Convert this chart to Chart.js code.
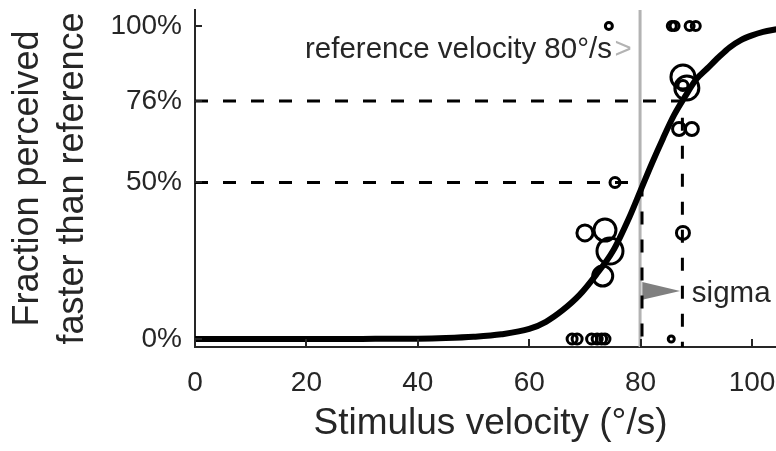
<!DOCTYPE html>
<html>
<head>
<meta charset="utf-8">
<script src="https://cdn.jsdelivr.net/npm/chart.js@4.4.1/dist/chart.umd.min.js"></script>
<style>
    html, body { margin: 0; padding: 0; background: #fff; overflow: hidden; }
    #wrap { width: 786px; height: 451px; }
</style>
</head>
<body>
<div id="wrap"><canvas id="chart" width="786" height="451"></canvas></div>
<script>
const FONT = '"Liberation Sans", Arial, Helvetica, sans-serif';
const INK = '#262626';

// fitted psychometric curve
const curveX = [0, 20, 30, 40, 45, 50, 55, 60, 63, 66, 69, 72, 75, 78, 80, 82, 84, 86, 88, 90, 92, 94, 96, 98, 100, 102, 104.5];
const curveY = [0, 0, 0.0003, 0.001, 0.003, 0.007, 0.015, 0.032, 0.055, 0.092, 0.14, 0.205, 0.28, 0.39, 0.475, 0.56, 0.64, 0.715, 0.775, 0.83, 0.865, 0.9, 0.932, 0.955, 0.97, 0.981, 0.99];

// observed responses: velocity, fraction faster, marker radius (~ trial count)
const obsX = [74.3, 85.6, 86.1, 88.8, 89.9,
              87.6, 88.3, 87.6,
              86.9, 89.2,
              75.4,
              87.6, 70.0, 73.6, 74.5, 73.2,
              67.7, 68.6, 71.2, 72.2, 73.0, 73.6, 85.5];
const obsY = [1, 1, 1, 1, 1,
              0.837, 0.802, 0.81,
              0.671, 0.671,
              0.5,
              0.339, 0.339, 0.348, 0.281, 0.201,
              0, 0, 0, 0, 0, 0, 0];
const obsR = [3.5, 4.5, 4.5, 4.5, 4.5,
              12, 12, 5,
              6.5, 6.5,
              5,
              6.5, 8, 11, 13, 10,
              5, 5, 5, 5, 5, 5, 3];

// reference / threshold values
const refVelocity = 79.9;
const pse = 80.25;
const thresh76 = 87.5;
const yHalf = 0.5;
const y76 = 0.76;

const xTicks = [0, 20, 40, 60, 80, 100];
const yTicks = [0, 0.5, 0.76, 1];
const yTickLabels = ['0%', '50%', '76%', '100%'];

const xMin = 0, xMax = 106.1, yMin = -0.0256, yMax = 1.0511;

const pts = (xs, ys) => xs.map((x, i) => ({ x: x, y: ys[i] }));

// no extra room for edge labels, the axes sit where the figure has them
function noEdgePadding(s) {
    s.paddingTop = 0;
    s.paddingBottom = 0;
    s.paddingLeft = 0;
    s.paddingRight = 0;
}

// inward tick marks + text annotations
const decor = {
    id: 'decor',
    afterDraw(chart) {
        const { ctx, scales: { x, y }, chartArea } = chart;
        ctx.save();
        ctx.strokeStyle = INK;
        ctx.lineWidth = 2;
        ctx.beginPath();
        xTicks.forEach(v => {
            const px = Math.round(x.getPixelForValue(v));
            ctx.moveTo(px, chartArea.bottom);
            ctx.lineTo(px, chartArea.bottom - 8);
        });
        yTicks.forEach(v => {
            const py = Math.round(y.getPixelForValue(v));
            ctx.moveTo(chartArea.left, py);
            ctx.lineTo(chartArea.left + 7, py);
        });
        ctx.stroke();

        ctx.font = '29.5px ' + FONT;
        ctx.textBaseline = 'alphabetic';
        ctx.fillStyle = INK;
        ctx.textAlign = 'right';
        ctx.fillText('reference velocity 80\u00B0/s', x.getPixelForValue(74.85), y.getPixelForValue(0.898));
        ctx.textAlign = 'left';
        ctx.fillStyle = '#b3b3b3';
        ctx.fillText('>', x.getPixelForValue(75.3), y.getPixelForValue(0.898));
        ctx.fillStyle = INK;
        ctx.fillText('sigma', x.getPixelForValue(89.2), y.getPixelForValue(0.118));
        ctx.restore();
    }
};

new Chart(document.getElementById('chart'), {
    type: 'line',
    data: {
        datasets: [
            {
                label: 'fit',
                data: pts(curveX, curveY),
                borderColor: '#000',
                borderWidth: 6,
                pointRadius: 0,
                cubicInterpolationMode: 'monotone',
                fill: false
            },
            {
                label: 'responses',
                data: pts(obsX, obsY),
                showLine: false,
                pointRadius: obsR,
                pointBorderWidth: 3,
                pointBorderColor: '#000',
                pointBackgroundColor: 'rgba(0,0,0,0)',
                clip: false
            },
            {
                label: '50%',
                data: [{ x: xMin, y: yHalf }, { x: pse, y: yHalf }, { x: pse, y: yMin }],
                borderColor: '#000',
                borderWidth: 3,
                borderDash: [13, 15],
                pointRadius: 0
            },
            {
                label: '76%',
                data: [{ x: xMin, y: y76 }, { x: thresh76, y: y76 }, { x: thresh76, y: yMin }],
                borderColor: '#000',
                borderWidth: 3,
                borderDash: [13, 15],
                pointRadius: 0
            },
            {
                label: 'sigma arrow',
                data: [{ x: 80.3, y: 0.182 }, { x: 87.1, y: 0.153 }, { x: 80.3, y: 0.125 }, { x: 80.3, y: 0.182 }],
                borderWidth: 0,
                borderColor: 'rgba(0,0,0,0)',
                backgroundColor: '#808080',
                pointRadius: 0,
                fill: 'shape'
            },
            {
                label: 'reference',
                data: [{ x: refVelocity, y: yMin }, { x: refVelocity, y: yMax }],
                borderColor: '#b3b3b3',
                borderWidth: 3,
                pointRadius: 0
            }
        ]
    },
    options: {
        responsive: false,
        animation: false,
        layout: { autoPadding: false, padding: { top: 10, right: 0, left: 0, bottom: 0 } },
        plugins: { legend: { display: false }, tooltip: { enabled: false } },
        scales: {
            x: {
                type: 'linear',
                min: xMin,
                max: xMax,
                afterFit: s => { s.height = 104; noEdgePadding(s); },
                afterBuildTicks: s => { s.ticks = xTicks.map(v => ({ value: v })); },
                grid: { display: true, drawOnChartArea: false, drawTicks: false },
                border: { display: true, color: INK, width: 2 },
                ticks: {
                    autoSkip: false,
                    maxRotation: 0,
                    padding: 19,
                    color: INK,
                    font: { family: FONT, size: 28 }
                },
                title: {
                    display: true,
                    text: 'Stimulus velocity (\u00B0/s)',
                    color: INK,
                    font: { family: FONT, size: 37, lineHeight: 1.2 },
                    padding: { top: 0, bottom: 5 }
                }
            },
            y: {
                type: 'linear',
                min: yMin,
                max: yMax,
                afterFit: s => { s.width = 195; noEdgePadding(s); },
                afterBuildTicks: s => { s.ticks = yTicks.map(v => ({ value: v })); },
                grid: { display: true, drawOnChartArea: false, drawTicks: false },
                border: { display: true, color: INK, width: 2 },
                ticks: {
                    autoSkip: false,
                    padding: 13,
                    color: INK,
                    font: { family: FONT, size: 28 },
                    callback: (v, i) => yTickLabels[i]
                },
                title: {
                    display: true,
                    text: ['Fraction perceived', 'faster than reference'],
                    color: INK,
                    font: { family: FONT, size: 36, lineHeight: 1.25 },
                    padding: { top: 6, bottom: 0 }
                }
            }
        }
    },
    plugins: [decor]
});
</script>
</body>
</html>
